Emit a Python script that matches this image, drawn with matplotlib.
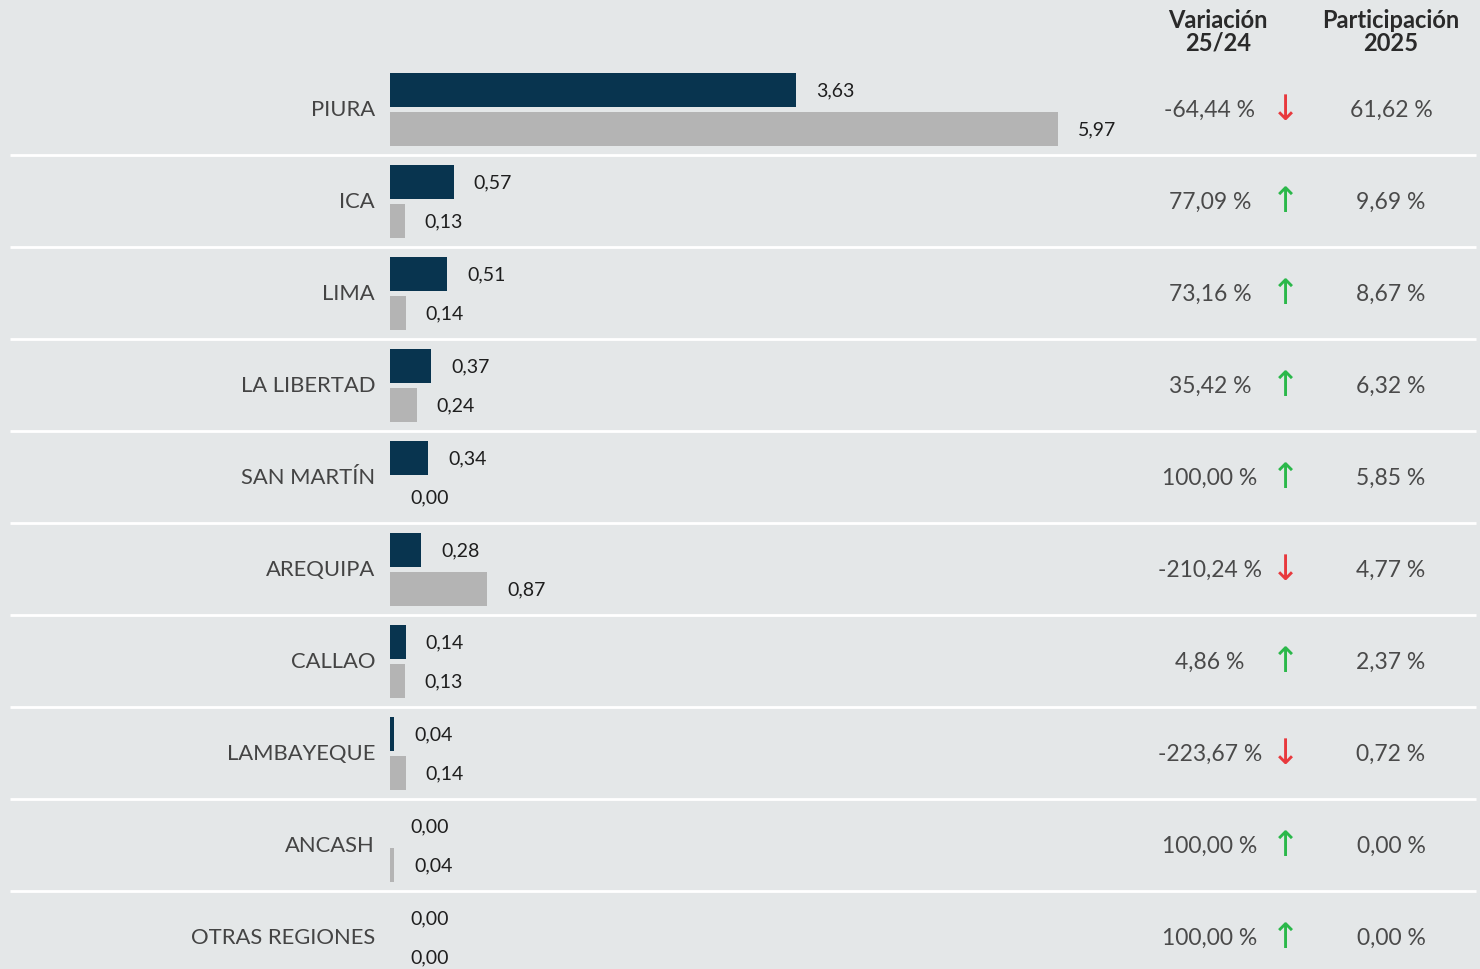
import matplotlib.pyplot as plt
import numpy as np

regions = ["PIURA", "ICA", "LIMA", "LA LIBERTAD", "SAN MARTÍN", "AREQUIPA",
           "CALLAO", "LAMBAYEQUE", "ANCASH", "OTRAS REGIONES"]
val_2025 = [3.63, 0.57, 0.51, 0.37, 0.34, 0.28, 0.14, 0.04, 0.00, 0.00]
val_2024 = [5.97, 0.13, 0.14, 0.24, 0.00, 0.87, 0.13, 0.14, 0.04, 0.00]
variacion = [-64.44, 77.09, 73.16, 35.42, 100.00, -210.24, 4.86, -223.67, 100.00, 100.00]
participacion = [61.62, 9.69, 8.67, 6.32, 5.85, 4.77, 2.37, 0.72, 0.00, 0.00]

BG = "#e4e7e8"
DARK = "#08344f"
GREY = "#b4b4b4"
RED = "#e8393d"
GREEN = "#2bb84a"

plt.rcParams['font.family'] = ['Lato', 'DejaVu Sans']


def fmt(v):
    return f"{v:.2f}".replace(".", ",")


fig = plt.figure(figsize=(14.8, 9.7), dpi=100, facecolor=BG)
ax = fig.add_axes([0, 0, 1, 1])
ax.set_facecolor(BG)

# scale: ~111.85 px per unit, bars start at x=390 px; rows 92 px apart
px = 1 / 111.85
ax.set_xlim(-390 * px, (1480 - 390) * px)
row = 92.0
ax.set_ylim((970 - 110) / row, -110 / row)
ax.axis("off")

y = np.arange(len(regions))
bh = 34 / row
off = 19.5 / row
ax.barh(y - off, val_2025, height=bh, color=DARK)
ax.barh(y + off, val_2024, height=bh, color=GREY)

for i in range(len(regions)):
    ax.text(-15 * px, i, regions[i], ha="right", va="center",
            fontsize=15.8, color="#444444")
    ax.text(val_2025[i] + 20 * px, i - off, fmt(val_2025[i]), ha="left",
            va="center", fontsize=14, color="#1e1e1e")
    ax.text(val_2024[i] + 20 * px, i + off, fmt(val_2024[i]), ha="left",
            va="center", fontsize=14, color="#1e1e1e")
    ax.text((1210 - 390) * px, i, fmt(variacion[i]) + " %", ha="center",
            va="center", fontsize=16.5, color="#4a4a4a")
    up = variacion[i] >= 0
    ax.text((1285 - 390) * px, i, "↑" if up else "↓", ha="center",
            va="center", fontsize=25, color=GREEN if up else RED,
            family="DejaVu Sans")
    ax.text((1391 - 390) * px, i, fmt(participacion[i]) + " %", ha="center",
            va="center", fontsize=16.5, color="#4a4a4a")

# separators between rows
ax.hlines(y[:-1] + 0.5, -380 * px, 1086 * px, color="white", lw=2)

# column headers
ax.text((1218 - 390) * px, -0.85, "Variación\n25/24", ha="center", va="center",
        fontsize=17, fontweight="bold", color="#2a2a2a", linespacing=1.0)
ax.text((1391 - 390) * px, -0.85, "Participación\n2025", ha="center",
        va="center", fontsize=17, fontweight="bold", color="#2a2a2a",
        linespacing=1.0)

fig.savefig("out.png", dpi=100, facecolor=BG)
